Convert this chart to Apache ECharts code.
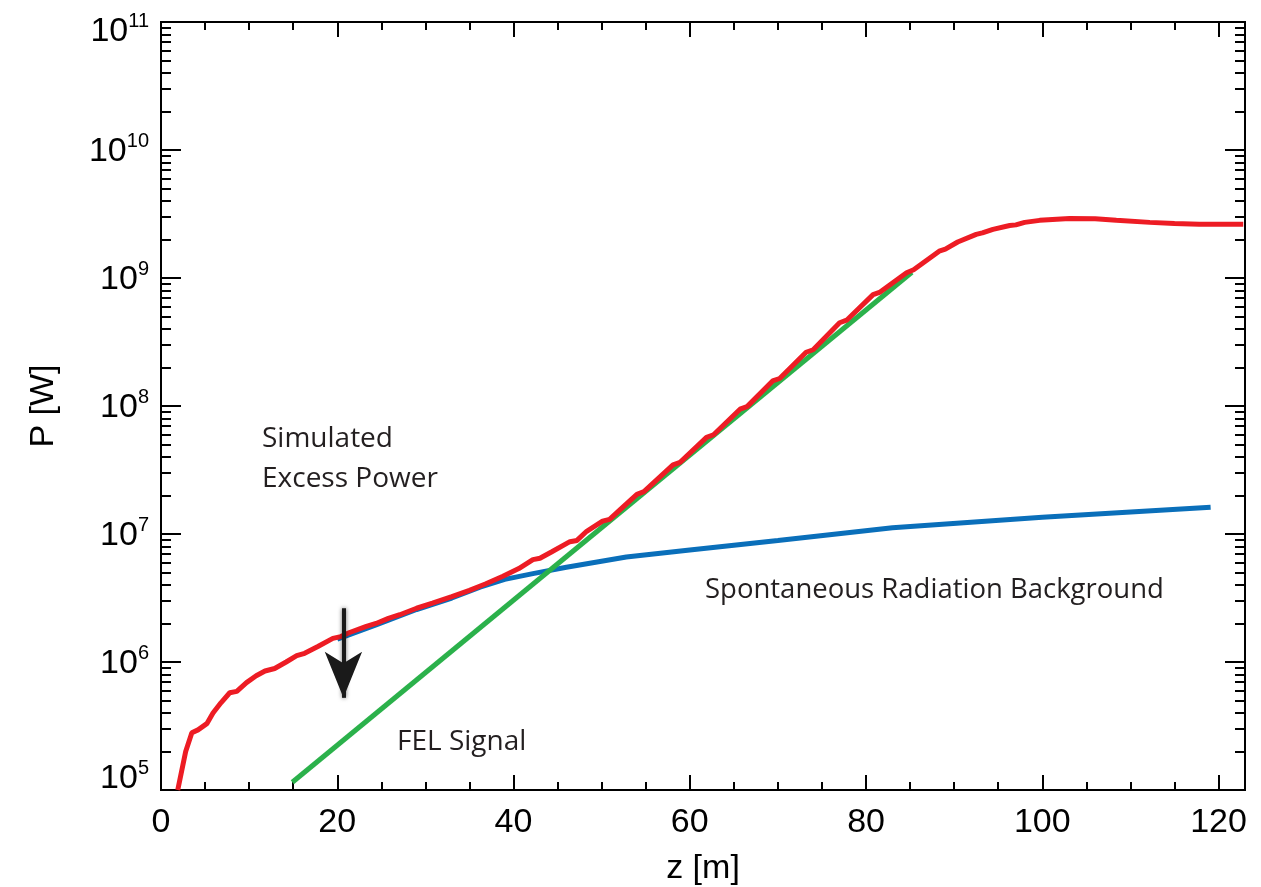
<!DOCTYPE html>
<html><head><meta charset="utf-8">
<script src="https://cdn.jsdelivr.net/npm/echarts@6/dist/echarts.min.js"></script>
<style>html,body{margin:0;padding:0;background:#fff}#c{width:1261px;height:887px}</style>
</head><body><div id="c"></div>
<script>
// ---- data (z in m, P in W) ----
const redZ = [1.9, 2.8, 3.5, 4.2, 5.2, 5.9, 6.8, 7.8, 8.6, 9.7, 10.8, 11.8, 12.9, 14.2, 15.4, 16.3, 17.8, 19.5, 20.4, 21.4, 23.3, 24.4, 25.8, 27.1, 29.0, 30.8, 33.0, 35.0, 36.8, 38.8, 40.6, 42.2, 43.0, 44.3, 46.4, 47.2, 48.3, 50.1, 50.9, 52.1, 54.0, 54.8, 58.1, 58.9, 61.9, 62.7, 65.7, 66.5, 69.4, 70.2, 73.2, 74.0, 77.0, 77.8, 80.8, 81.6, 84.6, 85.4, 88.3, 89.0, 90.4, 92.5, 93.2, 94.4, 96.3, 97.0, 98.0, 99.7, 103.1, 106.0, 108.4, 112.2, 115.0, 117.8, 122.8];
const redP = [1.0e5, 2.0e5, 2.8e5, 2.95e5, 3.3e5, 4.0e5, 4.8e5, 5.75e5, 5.9e5, 6.9e5, 7.8e5, 8.5e5, 8.9e5, 1.0e6, 1.12e6, 1.17e6, 1.32e6, 1.53e6, 1.58e6, 1.70e6, 1.90e6, 2.0e6, 2.19e6, 2.34e6, 2.63e6, 2.88e6, 3.24e6, 3.63e6, 4.07e6, 4.68e6, 5.37e6, 6.31e6, 6.46e6, 7.24e6, 8.71e6, 8.91e6, 1.05e7, 1.26e7, 1.30e7, 1.55e7, 2.04e7, 2.14e7, 3.47e7, 3.63e7, 5.69e7, 5.96e7, 9.44e7, 9.89e7, 1.57e8, 1.64e8, 2.63e8, 2.75e8, 4.47e8, 4.68e8, 7.41e8, 7.76e8, 1.10e9, 1.16e9, 1.62e9, 1.68e9, 1.91e9, 2.19e9, 2.25e9, 2.40e9, 2.57e9, 2.60e9, 2.72e9, 2.82e9, 2.92e9, 2.90e9, 2.82e9, 2.72e9, 2.66e9, 2.63e9, 2.63e9];
const blueZ = [20.0, 24.4, 29.0, 33.0, 36.2, 39.0, 42.2, 46.0, 52.8, 60.0, 70.0, 83.0, 100.0, 119.1];
const blueP = [1.51e6, 1.95e6, 2.57e6, 3.16e6, 3.85e6, 4.42e6, 4.90e6, 5.5e6, 6.61e6, 7.5e6, 8.9e6, 1.12e7, 1.35e7, 1.62e7];
const greenZ = [14.9, 85.2];
const greenP = [1.15e5, 1.11e9];
const arrowZ = 20.7;
const arrowP = [2.63e6, 5.25e5];
const xMajorTicks = [0, 20, 40, 60, 80, 100, 120];
const xMinorTicks = [5, 10, 15, 25, 30, 35, 45, 50, 55, 65, 70, 75, 85, 90, 95, 105, 110, 115];
const yMajorTicks = [1e5, 1e6, 1e7, 1e8, 1e9, 1e10, 1e11];
const yMinorMantissas = [2, 3, 4, 5, 6, 7, 8, 9];

const yMinorTicks = [];
yMajorTicks.slice(0, -1).forEach(d => yMinorMantissas.forEach(m => yMinorTicks.push(m * d)));

const pair = (zs, ps) => zs.map((z, i) => [z, ps[i]]);

const FONT = '"Liberation Sans", Arial, Helvetica, sans-serif';
const TXT = '"Open Sans", "Noto Sans", sans-serif';

function yLabel(v) {
  const e = Math.round(Math.log10(v));
  if (e === 11) return '{at|10}{bt|' + e + '}';
  if (e === 5) return '{ab|10}{bb|' + e + '}';
  return '{a|10}{b|' + e + '}';
}
const base = {fontFamily: FONT, color: '#000', verticalAlign: 'bottom'};
const rich = {
  a:  Object.assign({fontSize: 34}, base),
  b:  Object.assign({fontSize: 20, padding: [0, 0, 18, 0]}, base),
  at: Object.assign({fontSize: 34, padding: [20, 0, 0, 0]}, base),
  bt: Object.assign({fontSize: 20, padding: [0, 0, 18, 0]}, base),
  ab: Object.assign({fontSize: 34, padding: [0, 0, 26, 0]}, base),
  bb: Object.assign({fontSize: 20, padding: [0, 0, 44, 0]}, base)
};

const axLine = {show: true, onZero: false, lineStyle: {color: '#000', width: 2}};
function xAx(pos, ticks, len, labels) {
  return {
    type: 'value', position: pos, min: 0, max: 123,
    axisLine: axLine,
    axisTick: {show: true, inside: true, length: len, customValues: ticks, lineStyle: {color: '#000', width: 2}},
    axisLabel: labels ? {show: true, customValues: xMajorTicks, fontSize: 34, fontFamily: FONT, color: '#000', margin: 16} : {show: false},
    splitLine: {show: false},
    name: labels ? 'z [m]' : '',
    nameLocation: 'middle', nameGap: 62,
    nameTextStyle: {fontSize: 34, fontFamily: FONT, color: '#000'}
  };
}
function yAx(pos, ticks, len, labels) {
  return {
    type: 'log', logBase: 10, position: pos, min: 1e5, max: 1e11,
    axisLine: axLine,
    axisTick: {show: true, inside: true, length: len, customValues: ticks, lineStyle: {color: '#000', width: 2}},
    axisLabel: labels ? {show: true, customValues: yMajorTicks, formatter: yLabel, rich: rich, fontSize: 34, fontFamily: FONT, margin: 12} : {show: false},
    splitLine: {show: false}, minorTick: {show: false}, minorSplitLine: {show: false},
    name: labels ? 'P [W]' : '',
    nameLocation: 'middle', nameGap: 100, nameRotate: 90,
    nameTextStyle: {fontSize: 34, fontFamily: FONT, color: '#000'}
  };
}

const chart = echarts.init(document.getElementById('c'), null, {renderer: 'canvas'});
chart.setOption({
  backgroundColor: '#fff',
  animation: false,
  grid: {left: 161, right: 16, top: 22, bottom: 97, containLabel: false, outerBoundsMode: 'none'},
  xAxis: [
    xAx('bottom', xMajorTicks, 15, true),
    xAx('bottom', xMinorTicks, 8, false),
    xAx('top', xMajorTicks, 15, false),
    xAx('top', xMinorTicks, 8, false)
  ],
  yAxis: [
    yAx('left', yMajorTicks, 20, true),
    yAx('left', yMinorTicks, 10, false),
    yAx('right', yMajorTicks, 20, false),
    yAx('right', yMinorTicks, 10, false)
  ],
  series: [
    {
      name: 'Spontaneous Radiation Background', type: 'line', data: pair(blueZ, blueP),
      showSymbol: false, lineStyle: {color: '#0a6fba', width: 5}, z: 2,
      markLine: {
        silent: true, symbol: ['none', 'arrow'], symbolSize: [28, 46],
        label: {show: false},
        lineStyle: {color: '#1a1a1a', width: 4, type: 'solid', shadowBlur: 4, shadowColor: 'rgba(0,0,0,0.6)'},
        data: [[{coord: [arrowZ, arrowP[0]]}, {coord: [arrowZ, arrowP[1]]}]]
      }
    },
    {
      name: 'FEL Signal', type: 'line', data: pair(greenZ, greenP),
      showSymbol: false, lineStyle: {color: '#2bb14b', width: 5}, z: 3
    },
    {
      name: 'Simulated Excess Power', type: 'line', data: pair(redZ, redP),
      showSymbol: false, lineStyle: {color: '#ed1c24', width: 5}, z: 4
    }
  ],
  graphic: [
    {type: 'text', left: 262, top: 419, style: {text: 'Simulated\nExcess Power', font: '28px ' + TXT, fill: '#231f20', lineHeight: 40}},
    {type: 'text', left: 705, top: 576, style: {text: 'Spontaneous Radiation Background', font: '27.5px ' + TXT, fill: '#231f20'}},
    {type: 'text', left: 397, top: 728, style: {text: 'FEL Signal', font: '28px ' + TXT, fill: '#231f20'}}
  ]
});
</script>
</body></html>
